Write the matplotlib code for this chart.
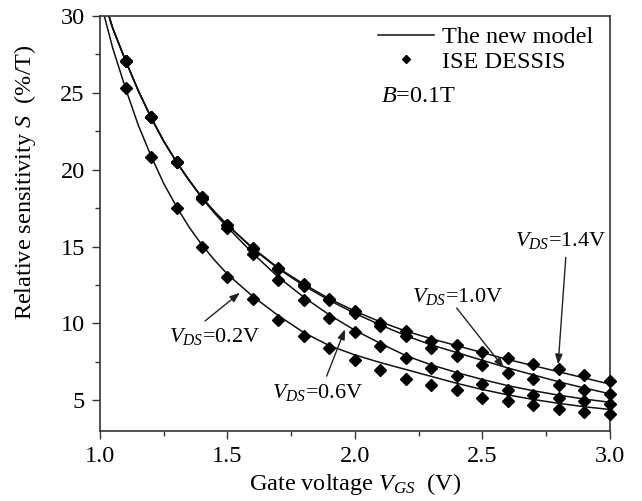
import matplotlib
matplotlib.use("Agg")
import matplotlib.pyplot as plt
from matplotlib.ticker import MultipleLocator
from matplotlib.lines import Line2D

plt.rcParams['font.family'] = ['Liberation Serif', 'DejaVu Serif']
plt.rcParams['mathtext.fontset'] = 'custom'
plt.rcParams['mathtext.rm'] = 'Liberation Serif'
plt.rcParams['mathtext.it'] = 'Liberation Serif:italic'
plt.rcParams['mathtext.bf'] = 'Liberation Serif:bold'

# ---------------- data ----------------
# ISE DESSIS simulation points
sim_x = [1.1, 1.2, 1.3, 1.4, 1.5, 1.6, 1.7, 1.8, 1.9, 2.0,
         2.1, 2.2, 2.3, 2.4, 2.5, 2.6, 2.7, 2.8, 2.9, 3.0]
sim_02 = [25.3, 20.8, 17.5, 14.95, 13.0, 11.6, 10.2, 9.15, 8.38, 7.6,
          6.96, 6.4, 5.98, 5.65, 5.15, 4.93, 4.67, 4.46, 4.24, 4.1]
sim_06 = [27.1, 23.4, 20.5, 18.1, 16.2, 14.52, 12.84, 11.54, 10.38, 9.44,
          8.53, 7.77, 7.11, 6.57, 6.09, 5.65, 5.37, 5.15, 4.93, 4.78]
sim_10 = [27.1, 23.4, 20.5, 18.2, 16.4, 14.85, 13.55, 12.45, 11.5, 10.65,
          9.84, 9.18, 8.42, 7.88, 7.29, 6.75, 6.4, 5.98, 5.7, 5.41]
sim_14 = [27.1, 23.4, 20.5, 18.2, 16.4, 14.9, 13.6, 12.55, 11.6, 10.8,
          10.0, 9.51, 8.86, 8.6, 8.16, 7.77, 7.37, 7.05, 6.63, 6.24]

# The new model (line values)
model_x_02 = [1.017, 1.05, 1.1, 1.15, 1.2, 1.25, 1.3, 1.35, 1.4, 1.45, 1.5,
              1.6, 1.7, 1.8, 1.9, 2.0, 2.1, 2.2, 2.3, 2.4, 2.5, 2.6, 2.7, 2.8, 2.9, 3.0]
model_02 = [30.0, 27.9, 25.3, 22.9, 20.9, 19.1, 17.6, 16.25, 15.1, 14.1, 13.2,
            11.75, 10.5, 9.4, 8.55, 7.95, 7.45, 7.0, 6.55, 6.1, 5.7, 5.35, 5.05, 4.8, 4.58, 4.4]

model_x = [1.035, 1.05, 1.1, 1.15, 1.2, 1.25, 1.3, 1.35, 1.4, 1.45, 1.5,
           1.6, 1.7, 1.8, 1.9, 2.0, 2.1, 2.2, 2.3, 2.4, 2.5, 2.6, 2.7, 2.8, 2.9, 3.0]
model_06 = [30.0, 29.2, 27.1, 25.15, 23.4, 21.85, 20.5, 19.3, 18.15, 17.15, 16.25,
            14.55, 13.0, 11.7, 10.55, 9.55, 8.7, 7.9, 7.3, 6.8, 6.35, 5.95, 5.62, 5.33, 5.08, 4.87]
model_10 = [30.0, 29.2, 27.1, 25.15, 23.4, 21.85, 20.5, 19.3, 18.2, 17.25, 16.4,
            14.85, 13.55, 12.45, 11.5, 10.65, 9.9, 9.2, 8.6, 8.1, 7.6, 7.1, 6.65, 6.2, 5.8, 5.42]
model_14 = [30.0, 29.2, 27.1, 25.15, 23.4, 21.85, 20.5, 19.3, 18.2, 17.25, 16.4,
            14.9, 13.6, 12.55, 11.6, 10.8, 10.1, 9.5, 9.0, 8.55, 8.1, 7.65, 7.25, 6.85, 6.45, 6.05]

x_ticks = [1.0, 1.5, 2.0, 2.5, 3.0]
y_ticks = [5, 10, 15, 20, 25, 30]
vds_labels = ["0.2V", "0.6V", "1.0V", "1.4V"]

# ---------------- figure ----------------
FS = 17.5
fig = plt.figure(figsize=(6.42, 5.01), dpi=100)
ax = fig.add_axes([0.1558, 0.1397, 0.7942, 0.8283])

lc = '#111111'
lw = 1.1
for mx, my in [(model_x_02, model_02), (model_x, model_06),
               (model_x, model_10), (model_x, model_14)]:
    ax.plot(mx, my, color=lc, lw=lw, zorder=2)

for s in [sim_02, sim_06, sim_10, sim_14]:
    ax.plot(sim_x, s, linestyle='none', marker='D', ms=5.8, color='black',
            zorder=3, clip_on=False)

ax.set_xlim(1.0, 3.0)
ax.set_ylim(3, 30)
ax.set_xticks(x_ticks)
ax.set_xticklabels([f"{v:.1f}" for v in x_ticks])
ax.set_yticks(y_ticks)
ax.set_yticklabels([str(v) for v in y_ticks])
ax.xaxis.set_minor_locator(MultipleLocator(0.25))
ax.yaxis.set_minor_locator(MultipleLocator(2.5))
ax.tick_params(which='major', direction='out', length=6, width=1.0,
               labelsize=FS, color='#333333', pad=5)
ax.tick_params(which='minor', direction='out', length=3.5, width=1.0,
               color='#333333')
for sp in ax.spines.values():
    sp.set_linewidth(1.2)
    sp.set_color('#333333')

ax.set_xlabel("Gate voltage $V_{GS}$  (V)", fontsize=FS, labelpad=3)
ax.set_ylabel("Relative sensitivity $S$  (%/T)", fontsize=FS)
ax.yaxis.set_label_coords(-0.122, 0.60)

# legend
handles = [Line2D([], [], color=lc, lw=lw),
           Line2D([], [], linestyle='none', marker='D', ms=4.2, color='black')]
leg = ax.legend(handles, ["The new model", "ISE DESSIS"], loc='upper left',
                bbox_to_anchor=(0.545, 0.975), frameon=False, fontsize=FS,
                handlelength=2.3, handletextpad=0.35, labelspacing=0.1,
                borderpad=0, borderaxespad=0)
ax.text(0.551, 0.805, "$B$=0.1T", transform=ax.transAxes, fontsize=FS,
        ha='left', va='center')

# annotations
afs = 16
ax.text(1.451, 9.18, "$V_{DS}$=" + vds_labels[0], fontsize=afs, ha='center', va='center')
ax.text(1.855, 5.52, "$V_{DS}$=" + vds_labels[1], fontsize=afs, ha='center', va='center')
ax.text(2.404, 11.73, "$V_{DS}$=" + vds_labels[2], fontsize=afs, ha='center', va='center')
ax.text(2.808, 15.39, "$V_{DS}$=" + vds_labels[3], fontsize=afs, ha='center', va='center')

arrow_kw = dict(arrowstyle='-|>,head_length=0.6,head_width=0.22', color='#222222',
                lw=1.0, shrinkA=0, shrinkB=0, mutation_scale=10)
ax.annotate("", xy=(1.549, 12.0), xytext=(1.412, 10.16), arrowprops=arrow_kw)
ax.annotate("", xy=(1.961, 9.62), xytext=(1.889, 6.57), arrowprops=arrow_kw)
ax.annotate("", xy=(2.584, 7.11), xytext=(2.399, 11.0), arrowprops=arrow_kw)
ax.annotate("", xy=(2.797, 7.33), xytext=(2.827, 14.3), arrowprops=arrow_kw)

fig.savefig("out.png", dpi=100)
